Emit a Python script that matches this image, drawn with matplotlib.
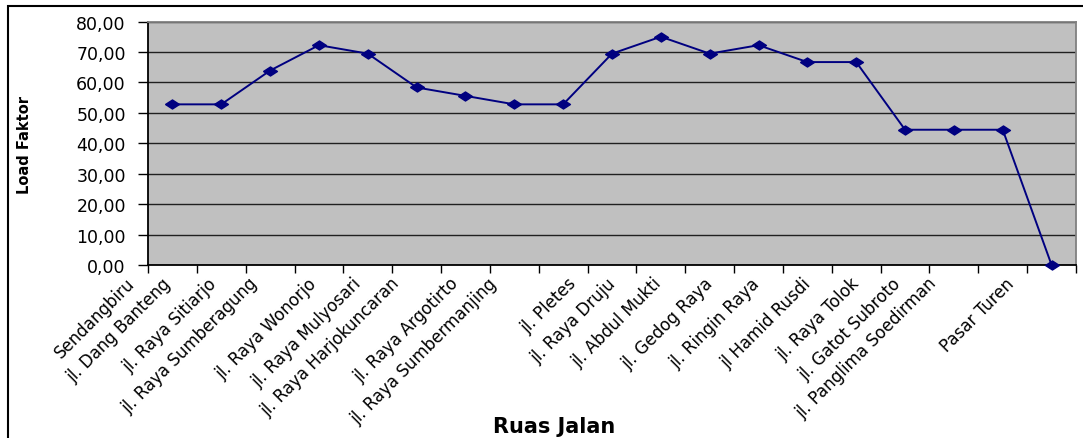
import matplotlib
matplotlib.use("Agg")
import matplotlib.pyplot as plt
from matplotlib.patches import Rectangle
from matplotlib.ticker import FixedLocator, FuncFormatter
from matplotlib.transforms import ScaledTranslation

ruas = [
    "Sendangbiru", "jl. Dang Banteng", "jl. Raya Sitiarjo", "jl. Raya Sumberagung",
    "jl. Raya Wonorjo", "jl. Raya Mulyosari", "jl. Raya Harjokuncaran",
    "jl. Raya Argotirto", "jl. Raya Sumbermanjing", "jl. Pletes", "jl. Raya Druju",
    "jl. Abdul Mukti", "jl. Gedog Raya", "jl. Ringin Raya", "jl Hamid Rusdi",
    "jl. Raya Tolok", "jl. Gatot Subroto", "jl. Panglima Soedirman", "Pasar Turen",
]
load_faktor = [
    52.78, 52.78, 63.89, 72.22, 69.44, 58.33, 55.56, 52.78, 52.78, 69.44,
    75.00, 69.44, 72.22, 66.67, 66.67, 44.44, 44.44, 44.44, 0.00,
]
y_ticks = [0, 10, 20, 30, 40, 50, 60, 70, 80]

fig = plt.figure(figsize=(10.83, 4.39), dpi=100)
ax = fig.add_axes([148 / 1083, 1 - 266 / 439, 928 / 1083, 243.5 / 439])
ax.set_facecolor("#c0c0c0")

x = list(range(len(ruas)))
diamond = [(-1, 0), (0, 0.65), (1, 0), (0, -0.65), (-1, 0)]
ax.plot(x, load_faktor, color="#000080", lw=1.4, marker=diamond,
        markersize=10, markerfacecolor="#000080", markeredgecolor="#000080",
        clip_on=False, zorder=3)

ax.set_xlim(-0.5, len(ruas) - 0.5)
ax.set_ylim(0, 80)
ax.yaxis.set_major_locator(FixedLocator(y_ticks))
ax.yaxis.set_major_formatter(FuncFormatter(lambda v, p: f"{v:.2f}".replace(".", ",")))
ax.grid(axis="y", color="#202020", lw=1.0)
ax.set_axisbelow(True)

# category labels at centres, tick marks at the boundaries
ax.set_xticks(x)
ax.set_xticklabels(ruas)
ax.set_xticks([i - 0.5 for i in range(len(ruas) + 1)], minor=True)
ax.tick_params(axis="x", which="major", length=0, pad=11, labelsize=12)
ax.tick_params(axis="x", which="minor", length=6, width=1, color="black", direction="out")
ax.tick_params(axis="y", length=7, width=1, direction="out", pad=9, labelsize=12.5)

# longer names sit further left of their category
for lab in ax.get_xticklabels():
    lab.set_rotation(45)
    lab.set_rotation_mode("anchor")
    lab.set_ha("right")
    lab.set_va("center")
    shift = (12 + 2.6 * len(lab.get_text())) / 100
    lab.set_transform(lab.get_transform() + ScaledTranslation(-shift, 0, fig.dpi_scale_trans))

for side in ("left", "bottom"):
    ax.spines[side].set_color("black")
    ax.spines[side].set_linewidth(1.3)
for side in ("top", "right"):
    ax.spines[side].set_color("#808080")
    ax.spines[side].set_linewidth(1.3)

fig.text(25 / 1083, 1 - 145 / 439, "Load Faktor", rotation=90, ha="center",
         va="center", fontsize=10.5, fontweight="bold")
fig.text(554 / 1083, (439 - 433) / 439, "Ruas Jalan", ha="center",
         va="baseline", fontsize=15, fontweight="bold")

# chart area frame
fig.patches.append(Rectangle((8 / 1083, -0.2), 1.2, 1.2 - 7 / 439,
                             transform=fig.transFigure, fill=False,
                             edgecolor="black", lw=1.5, clip_on=False))

fig.savefig("out.png", dpi=100)
